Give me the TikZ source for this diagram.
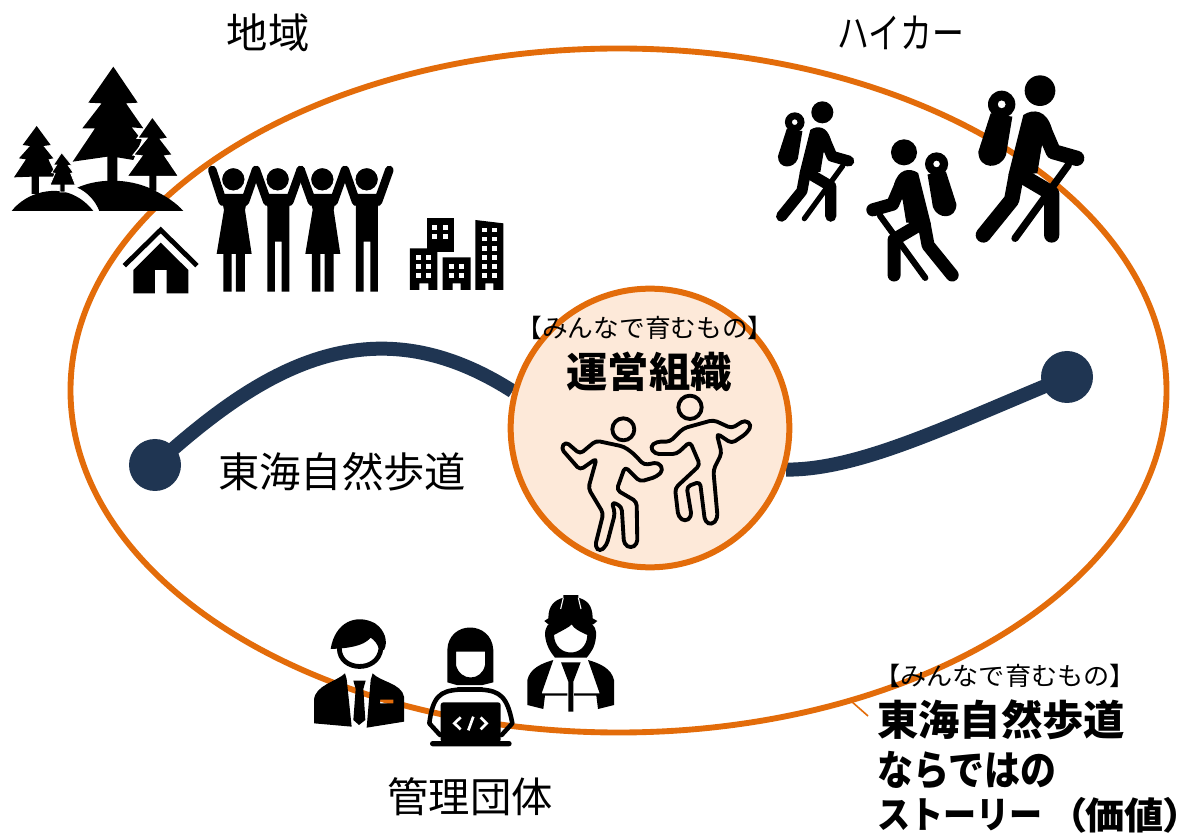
\documentclass[tikz,border=0pt]{standalone}
\usepackage{graphicx}
\usepackage{fontspec}
\setmainfont{Noto Sans CJK JP}
\usetikzlibrary{backgrounds}
\definecolor{ring}{HTML}{E36C0A}
\definecolor{route}{HTML}{1F3552}
\definecolor{hubfill}{HTML}{FDE9D9}
\tikzset{
  lab/.style={inner sep=0pt,text=black,font=\fontsize{31pt}{31pt}\selectfont},
  labb/.style={inner sep=0pt,text=black,font=\fontsize{31pt}{31pt}\selectfont\bfseries},
  labs/.style={inner sep=0pt,text=black,font=\fontsize{18pt}{18pt}\selectfont},
  routedot/.style={circle,fill=route,minimum size=39pt,inner sep=0pt},
  routeline/.style={draw=route,line width=10.5pt},
  ico/.style={fill=black},
  limb/.style={draw=black,line cap=round,line join=round},
  dancer/.style={draw=black,line width=2.9pt,rounded corners=3pt,line join=round}
}
\newcommand{\hikerfig}[4]{%
\begin{scope}[shift={({760+#1/3},{60+#2/3})},xscale=#4*#3/3,yscale=#3/3,shift={(-840,-92)}]
  \fill[ico] (840,92) circle (46);
  \fill[ico,even odd rule] (725,133) circle (41) (725,133) circle (12);
  \fill[ico] (692,160) -- (757,170) -- (738,285) .. controls (722,330) and (655,330) .. (655,275) -- cycle;
  \draw[limb,line width=#3*5.5pt] (925,315) -- (765,535);
  \fill[ico] (790,165) .. controls (820,145) and (860,150) .. (875,205) -- (845,260) -- (832,340) -- (745,345) -- cycle;
  \draw[limb,line width=#3*11.5pt] (768,350) -- (755,420) -- (670,525);
  \draw[limb,line width=#3*11.5pt] (790,350) -- (875,400) -- (875,525);
  \draw[limb,line width=#3*11.5pt] (850,205) -- (880,275) -- (950,295);
\end{scope}}
\begin{document}
\begin{tikzpicture}[x=0.75pt,y=-0.75pt]
\useasboundingbox (0,0) rectangle (1185,837);

\node[circle,draw=ring,fill=hubfill,line width=4.5pt,minimum size=209pt,inner sep=0pt] (hub) at (650,428) {};
\node[routedot] (leftend) at (155,465) {};
\node[routedot] (rightend) at (1067,377) {};
\begin{pgfonlayer}{background}
  \fill[white] (0,0) rectangle (1185,837);
  \draw[ring,line width=4.4pt] (618.5,390.5) ellipse [x radius=548,y radius=342];
  \draw[routeline] (leftend.center) .. controls (260,370) and (370,300) .. (hub.165);
  \draw[routeline] (hub.-17) .. controls (860,470) and (950,425) .. (rightend.center);
\end{pgfonlayer}
\coordinate (ringpt) at (851,701);
\coordinate (tickend) at (868,716);
\draw[ring,line width=1.2pt] (ringpt) -- (tickend);

% labels
\node[lab] (chiiki) at (268,33) {地域};
\node[lab] (hiker) at (901,33) {\scalebox{0.77}[1]{ハイカー}};
\node[lab] (route) at (342,472) {東海自然歩道};
\node[lab] (kanri) at (470,797) {管理団体};
\node[labs] (hubtop) at (645,328) {\scalebox{1.07}[1.05]{【みんなで育むもの】}};
\node[labb] (hubname) at (649,372) {運営組織};
\node[labs] (vtop) at (1005,676) {\scalebox{1.09}[1.05]{【みんなで育むもの】}};
\node[labb,anchor=west] (v1) at (877,720) {東海自然歩道};
\node[labb,anchor=west] (v2) at (877,770) {\scalebox{0.87}[1]{ならではの}};
\node[labb,anchor=west] (v3a) at (877,815) {\scalebox{0.8}[0.9]{ストーリー}};
\node[labb,anchor=east] (v3b) at (1184,815) {\scalebox{0.95}[0.9]{\addfontfeature{RawFeature=+palt}（価値）}};

\begin{scope}[shift={(0,50)},scale=1/3]
  \fill[ico] (340,50) -- (413,158) -- (378,160) -- (430,235) -- (395,232) -- (425,270) -- (400,330) -- (352,322) -- (352,395) -- (322,395) -- (322,320) -- (218,335) -- (285,235) -- (247,235) -- (305,160) -- (265,158) -- cycle;
  \fill[ico,draw=white,line width=1pt] (457,200) -- (505,265) -- (482,268) -- (518,315) -- (495,318) -- (537,380) -- (471,380) -- (471,425) -- (446,425) -- (446,380) -- (380,380) -- (425,318) -- (400,315) -- (440,265) -- (412,265) -- cycle;
  \fill[ico] (232,413) .. controls (300,382) and (400,385) .. (470,425) .. controls (500,440) and (530,460) .. (550,483) -- (298,483) .. controls (285,450) and (260,425) .. (232,413) -- cycle;
  \fill[ico] (35,483) .. controls (80,425) and (170,405) .. (230,440) .. controls (250,450) and (270,470) .. (280,483) -- cycle;
  \fill[ico] (110,228) -- (152,285) -- (130,288) -- (160,325) -- (145,328) -- (170,380) -- (117,380) -- (117,432) -- (95,432) -- (95,380) -- (42,382) -- (78,328) -- (57,325) -- (90,288) -- (68,285) -- cycle;
  \fill[ico,draw=white,line width=.6pt] (185,308) -- (215,345) -- (205,347) -- (220,368) -- (212,370) -- (226,405) -- (195,405) -- (195,426) -- (180,426) -- (180,405) -- (150,405) -- (165,370) -- (155,368) -- (170,345) -- (160,345) -- cycle;
  % house
  \draw[line width=3.6pt,miter limit=4] (373,647) -- (482,540) -- (591,647);
  \fill[ico] (400,660) -- (482,578) -- (565,660) -- (565,730) -- (500,730) -- (500,660) -- (465,660) -- (465,730) -- (400,730) -- cycle;
  % people
  \draw[limb,line width=6.4pt] (637,360) -- (668,455);
  \draw[limb,line width=6.4pt] (768,360) -- (735,455);
  \draw[limb,line width=6.4pt] (768,360) -- (802,455);
  \draw[limb,line width=6.4pt] (902,360) -- (868,455);
  \draw[limb,line width=6.4pt] (902,360) -- (936,455);
  \draw[limb,line width=6.4pt] (1035,360) -- (1001,455);
  \draw[limb,line width=6.4pt] (1035,360) -- (1068,455);
  \draw[limb,line width=6.4pt] (1168,360) -- (1134,455);
  \fill[ico] (662,432) -- (745,432) -- (735,480) -- (755,612) -- (650,612) -- (672,480) -- cycle;
  \fill[ico] (670,612) rectangle (695,725) (708,612) rectangle (735,725);
  \fill[ico] (928,432) -- (1011,432) -- (1001,480) -- (1021,612) -- (916,612) -- (938,480) -- cycle;
  \fill[ico] (936,612) rectangle (961,725) (974,612) rectangle (1001,725);
  \fill[ico] (792,432) -- (878,432) -- (868,470) -- (868,725) -- (845,725) -- (845,575) -- (825,575) -- (825,725) -- (802,725) -- (802,470) -- cycle;
  \fill[ico] (1058,432) -- (1144,432) -- (1134,470) -- (1134,725) -- (1111,725) -- (1111,575) -- (1091,575) -- (1091,725) -- (1068,725) -- (1068,470) -- cycle;
  \foreach \hx in {700,833,967,1100}{
    \fill[ico,draw=white,line width=1.1pt] (\hx,388) circle (36);
  }
  % buildings
  \fill[ico] (1280,503) rectangle (1362,605);
  \fill[ico] (1230,595) -- (1312,595) -- (1312,720) -- (1285,720) -- (1285,700) -- (1258,700) -- (1258,720) -- (1230,720) -- cycle;
  \fill[ico] (1328,622) -- (1412,622) -- (1412,720) -- (1382,720) -- (1382,700) -- (1358,700) -- (1358,720) -- (1328,720) -- cycle;
  \fill[ico] (1426,510) -- (1510,520) -- (1510,720) -- (1480,720) -- (1480,700) -- (1456,700) -- (1456,720) -- (1426,720) -- cycle;
  \begin{scope}[white]
    \foreach \wx in {1296,1328}\foreach \wy in {525,552}{\fill (\wx,\wy) rectangle +(16,14);}
    \foreach \wx in {1248,1278}\foreach \wy in {615,642,670}{\fill (\wx,\wy) rectangle +(16,14);}
    \foreach \wx in {1347,1377}\foreach \wy in {643,670}{\fill (\wx,\wy) rectangle +(16,14);}
    \foreach \wx in {1446,1476}\foreach \wy in {533,560,588,615,642,670}{\fill (\wx,\wy) rectangle +(16,14);}
  \end{scope}
\end{scope}

% hikers
\hikerfig{840}{92}{1}{1}
\hikerfig{187}{157}{0.72}{1}
\hikerfig{432}{277}{0.85}{-1}

% dancers
\begin{scope}[shift={(500,300)},scale=1/3]
  \draw[dancer] (370,388) circle (33);
  \draw[dancer] (197,425) -- (240,462) -- (288,422) -- (372,440) -- (402,462) -- (432,495) -- (475,487) -- (490,510) -- (470,530) -- (420,545) -- (375,500) -- (350,570) -- (410,605) -- (412,732) -- (392,745) -- (372,732) -- (365,620) -- (335,605) -- (345,640) -- (320,735) -- (300,755) -- (285,740) -- (310,640) -- (265,565) -- (290,475) -- (240,510) -- (183,445) -- cycle;
  \draw[dancer] (570,322) circle (35);
  \draw[dancer] (450,440) -- (470,425) -- (510,425) -- (550,385) -- (640,360) -- (695,385) -- (735,360) -- (755,375) -- (740,400) -- (695,430) -- (650,400) -- (665,460) -- (640,510) -- (653,655) -- (635,675) -- (615,665) -- (600,545) -- (560,560) -- (575,650) -- (555,665) -- (535,650) -- (525,565) -- (600,495) -- (570,425) -- (530,462) -- (465,462) -- cycle;
\end{scope}

% managers
\begin{scope}[shift={(300,585)},scale=1/3]
  \fill[ico] (92,192) .. controls (105,110) and (170,85) .. (225,115) .. controls (255,135) and (265,170) .. (252,195) -- (236,190) .. controls (232,175) and (222,165) .. (212,158) .. controls (190,185) and (140,190) .. (92,192) -- cycle;
  \draw[limb,line width=3.6pt] (118,190) .. controls (118,260) and (235,265) .. (243,190);
  \fill[ico,even odd rule] (42,415) -- (42,345) .. controls (45,300) and (110,290) .. (135,265) -- (140,282) -- (155,425) -- cycle
     (312,410) -- (312,335) .. controls (305,295) and (240,290) .. (218,265) -- (212,285) -- (200,428) -- cycle
     (240,344) rectangle (280,355);
  \fill[ico] (160,287) -- (197,287) -- (190,312) -- (196,405) -- (177,420) -- (160,405) -- (167,312) -- cycle;
  \fill[ico,even odd rule] (442,292) -- (442,195) .. controls (445,105) and (575,105) .. (580,195) -- (580,292) -- (548,300) -- (470,300) -- cycle
     (468,200) -- (555,200) -- (555,240) .. controls (545,290) and (480,290) .. (468,240) -- cycle;
  \draw[limb,line width=3.4pt] (475,314) -- (545,314);
  \draw[limb,line width=3.4pt] (475,314) .. controls (420,318) and (398,335) .. (388,415) -- (420,450);
  \draw[limb,line width=3.4pt] (545,314) .. controls (600,318) and (622,335) .. (637,415) -- (605,450);
  \fill[ico,rounded corners=2pt] (422,352) rectangle (602,472);
  \fill[ico,rounded corners=2pt] (390,468) rectangle (635,484);
  \draw[white,line width=2pt] (482,397) -- (463,415) -- (482,433) (542,397) -- (560,415) -- (542,433) (520,395) -- (505,436);
  \fill[ico] (745,100) .. controls (745,60) and (765,45) .. (790,38) -- (790,30) -- (835,30) -- (835,38) .. controls (860,45) and (878,60) .. (878,100) -- (892,108) -- (880,118) -- (745,118) -- (733,108) -- cycle;
  \draw[white,line width=.8pt] (790,38) -- (782,72) (835,38) -- (843,72);
  \fill[ico,even odd rule] (735,150) .. controls (735,125) and (745,115) .. (760,110) -- (865,110) .. controls (885,120) and (890,135) .. (888,155) .. controls (885,190) and (870,205) .. (860,218) -- (765,218) .. controls (750,200) and (738,180) .. (735,150) -- cycle
     (762,150) .. controls (790,135) and (810,125) .. (815,118) .. controls (820,130) and (840,140) .. (862,150) .. controls (860,220) and (765,220) .. (762,150) -- cycle;
  \fill[ico] (682,360) -- (682,285) .. controls (690,250) and (725,235) .. (760,225) -- (725,325) -- (802,325) -- (802,332) -- (735,332) -- (730,372) -- cycle;
  \fill[ico] (942,360) -- (942,285) .. controls (934,250) and (899,235) .. (864,225) -- (899,325) -- (822,325) -- (822,332) -- (889,332) -- (894,372) -- cycle;
  \fill[ico] (783,232) -- (842,232) -- (820,290) -- (820,380) -- (805,380) -- (805,290) -- cycle;
\end{scope}
\end{tikzpicture}
\end{document}
